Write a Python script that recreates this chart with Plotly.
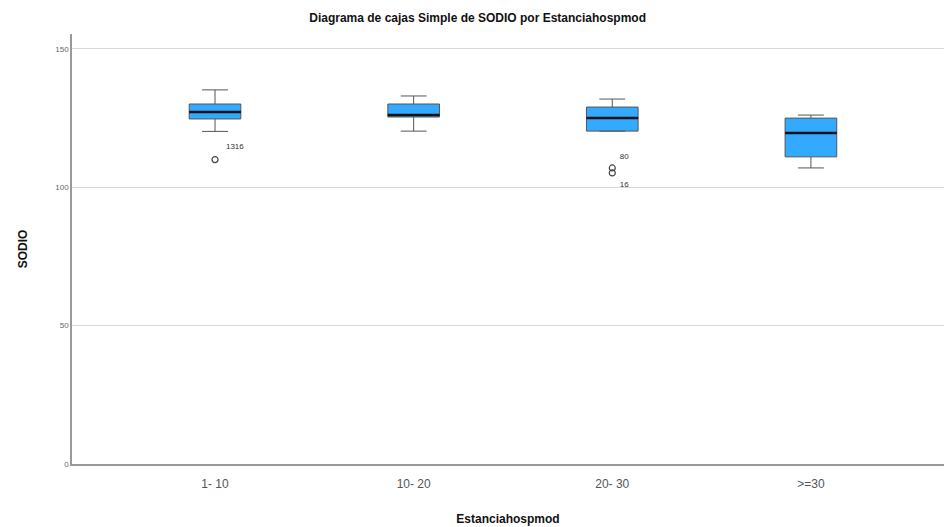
import plotly.graph_objects as go

categories = ["1- 10", "10- 20", "20- 30", ">=30"]
lower_whisker = [120.2, 120.3, 120.3, 107.0]
q1_vals = [124.7, 125.4, 120.3, 111.0]
median_vals = [127.2, 126.1, 125.0, 119.6]
q3_vals = [130.1, 130.1, 129.0, 125.0]
upper_whisker = [135.2, 133.0, 131.9, 126.1]

outlier_cat = [0, 2, 2]
outlier_vals = [110.0, 107.0, 105.2]
outlier_labels = ["1316", "80", "16"]
label_dx = [0.1, 0.06, 0.06]
label_dy = [4.5, 4.0, -4.5]

positions = list(range(len(categories)))
box_w = 0.26

fig = go.Figure()
fig.add_trace(go.Box(
    x=positions, q1=q1_vals, median=median_vals, q3=q3_vals,
    lowerfence=lower_whisker, upperfence=upper_whisker,
    width=box_w, whiskerwidth=0.5,
    fillcolor="#33aaff", line=dict(color="#555555", width=1),
    boxpoints=False, showlegend=False, hoverinfo="skip",
))
for i, m in zip(positions, median_vals):
    fig.add_trace(go.Scatter(
        x=[i - box_w / 2, i + box_w / 2], y=[m, m], mode="lines",
        line=dict(color="#111111", width=2.5), showlegend=False, hoverinfo="skip",
    ))
fig.add_trace(go.Scatter(
    x=[positions[c] for c in outlier_cat], y=outlier_vals, mode="markers",
    marker=dict(symbol="circle-open", size=6, color="#444444", line=dict(width=1.2)),
    showlegend=False, hoverinfo="skip",
))
fig.add_trace(go.Scatter(
    x=[positions[c] + dx for c, dx in zip(outlier_cat, label_dx)],
    y=[v + dy for v, dy in zip(outlier_vals, label_dy)],
    mode="text", text=outlier_labels,
    textfont=dict(size=8, color="#333333", family="Liberation Sans, Arial"),
    showlegend=False, hoverinfo="skip",
))

fig.update_layout(
    width=944, height=527,
    margin=dict(l=72, r=0, t=34, b=63),
    paper_bgcolor="white", plot_bgcolor="white",
    font=dict(family="Liberation Sans, Arial", color="#222222"),
    title=dict(text="<b>Diagrama de cajas Simple de SODIO por Estanciahospmod</b>",
               x=0.506, xanchor="center", y=0.966, yanchor="middle",
               font=dict(size=12, color="#111111")),
    xaxis=dict(
        range=[-0.72, 3.67], tickvals=positions, ticktext=categories,
        showgrid=False, zeroline=False, showline=True, linecolor="#999999", linewidth=1.5,
        ticks="", tickfont=dict(size=12, color="#555555"), ticklabelstandoff=8,
        title=dict(text="<b>Estanciahospmod</b>", font=dict(size=12, color="#111111"), standoff=24),
    ),
    yaxis=dict(
        range=[0, 155.4], tickvals=[0, 50, 100, 150],
        showgrid=True, gridcolor="#d8d8d8", gridwidth=1.2, zeroline=False,
        showline=True, linecolor="#999999", linewidth=1.5,
        ticks="", tickfont=dict(size=8, color="#666666"),
        title=dict(text="<b>SODIO</b>", font=dict(size=12, color="#111111"), standoff=25),
    ),
)

fig.write_html(
    "out.html",
    config={"displayModeBar": False},
    post_script="document.body.style.margin='0';document.body.style.overflow='hidden';",
)
